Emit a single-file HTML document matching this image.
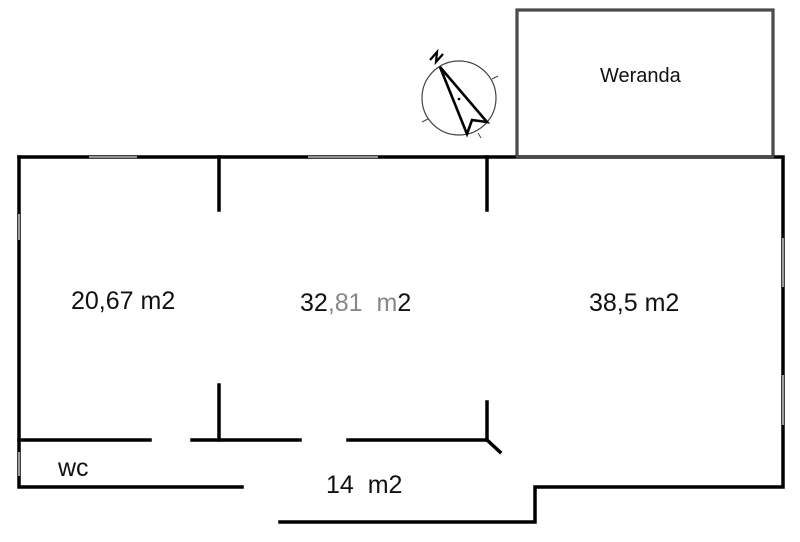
<!DOCTYPE html>
<html><head><style>
body{margin:0;background:#fff}
svg{display:block}
text{font-family:"Liberation Sans",sans-serif;fill:#111}
</style></head><body>
<svg width="800" height="542" viewBox="0 0 800 542">
<g stroke="#000" stroke-width="3.5" fill="none" stroke-linecap="square">
<path d="M19,157 H783 V487 H535 V522 H280"/>
<path d="M19,157 V487 H242"/>
<path d="M19,440 H150 M192,440 H300 M348,440 H487 L500,452"/>
<path d="M219,157 V210 M219,385 V440 M487,157 V210 M487,402 V440"/>
</g>
<g stroke="#fff" stroke-width="1.6">
<path d="M89,157 H137 M308,157 H378 M19,214 V240 M19,452 V476 M783,238 V287 M783,375 V425"/>
</g>
<g stroke="#888" stroke-width="0.8">
<path d="M89,157 H137 M308,157 H378 M19,214 V240 M19,452 V476 M783,238 V287 M783,375 V425"/>
</g>
<rect x="517" y="10" width="256" height="147" fill="none" stroke="#222" stroke-width="3"/>
<rect x="517" y="10" width="256" height="147" fill="none" stroke="#888" stroke-width="0.8"/>
<circle cx="459" cy="98" r="37" fill="none" stroke="#444" stroke-width="1.2"/>
<path d="M440,67 L467,134 L472,120 L487,122 Z" fill="none" stroke="#000" stroke-width="2.6" stroke-linejoin="miter"/>
<circle cx="459" cy="99" r="1.3" fill="#000"/>
<g stroke="#444" stroke-width="1"><path d="M492,79 L498,76 M428,119 L422,122 M478,133 L481,138"/></g>
<path d="M430,60 L437,52 L436,62 L443,54" fill="none" stroke="#000" stroke-width="2.2"/>
<text x="600" y="82" font-size="20">Weranda</text>
<text x="71" y="309" font-size="25">20,67 m2</text>
<text x="300" y="311" font-size="25">32<tspan fill="#888">,81</tspan>&#160;&#160;<tspan fill="#888">m</tspan>2</text>
<text x="589" y="311" font-size="25">38,5 m2</text>
<text x="58" y="476" font-size="25">wc</text>
<text x="326" y="493" font-size="25">14&#160;&#160;m2</text>
</svg>
</body></html>
